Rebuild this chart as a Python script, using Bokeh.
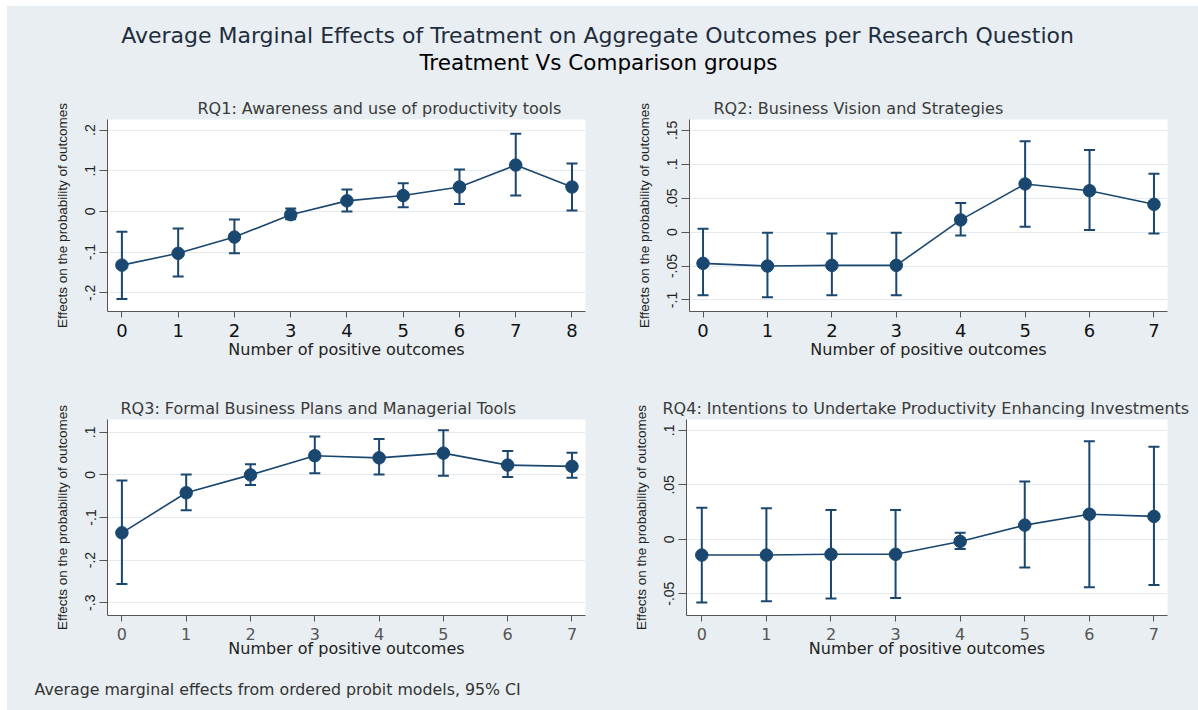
from bokeh.plotting import figure
from bokeh.layouts import column, row
from bokeh.models import (ColumnDataSource, Whisker, TeeHead, FixedTicker, Range1d,
                          Label, Title)
from bokeh.embed import file_html
from bokeh.resources import INLINE

# ---------------- data ----------------
rq1_x = [0, 1, 2, 3, 4, 5, 6, 7, 8]
rq1_y = [-0.132, -0.103, -0.063, -0.008, 0.026, 0.039, 0.060, 0.114, 0.060]
rq1_lo = [-0.215, -0.160, -0.103, -0.019, 0.000, 0.010, 0.018, 0.039, 0.002]
rq1_hi = [-0.050, -0.042, -0.020, 0.007, 0.054, 0.069, 0.103, 0.191, 0.118]

rq2_x = [0, 1, 2, 3, 4, 5, 6, 7]
rq2_y = [-0.046, -0.050, -0.049, -0.049, 0.018, 0.071, 0.061, 0.041]
rq2_lo = [-0.093, -0.096, -0.093, -0.093, -0.005, 0.008, 0.003, -0.002]
rq2_hi = [0.005, -0.001, -0.002, -0.001, 0.043, 0.134, 0.121, 0.086]

rq3_x = [0, 1, 2, 3, 4, 5, 6, 7]
rq3_y = [-0.136, -0.042, 0.000, 0.045, 0.040, 0.051, 0.023, 0.020]
rq3_lo = [-0.256, -0.083, -0.024, 0.004, 0.001, -0.002, -0.005, -0.007]
rq3_hi = [-0.013, 0.001, 0.025, 0.090, 0.084, 0.105, 0.056, 0.052]

rq4_x = [0, 1, 2, 3, 4, 5, 6, 7]
rq4_y = [-0.0145, -0.0145, -0.0138, -0.0138, -0.002, 0.013, 0.023, 0.021]
rq4_lo = [-0.058, -0.057, -0.0545, -0.054, -0.009, -0.026, -0.044, -0.042]
rq4_hi = [0.029, 0.0286, 0.0268, 0.0268, 0.006, 0.053, 0.090, 0.085]

rq1_yticks = [-0.2, -0.1, 0.0, 0.1, 0.2]
rq1_ylabels = ["-.2", "-.1", "0", ".1", ".2"]
rq2_yticks = [-0.1, -0.05, 0.0, 0.05, 0.1, 0.15]
rq2_ylabels = ["-.1", "-.05", "0", ".05", ".1", ".15"]
rq3_yticks = [-0.3, -0.2, -0.1, 0.0, 0.1]
rq3_ylabels = ["-.3", "-.2", "-.1", "0", ".1"]
rq4_yticks = [-0.05, 0.0, 0.05, 0.1]
rq4_ylabels = ["-.05", "0", ".05", ".1"]

titles = ["RQ1: Awareness and use of productivity tools",
          "RQ2: Business Vision and Strategies",
          "RQ3: Formal Business Plans and Managerial Tools",
          "RQ4: Intentions to Undertake Productivity Enhancing Investments"]
main_title = "Average Marginal Effects of Treatment on Aggregate Outcomes per Research Question"
sub_title = "Treatment Vs Comparison groups"
note = "Average marginal effects from ordered probit models, 95% CI"
x_label = "Number of positive outcomes"
y_label = "Effects on the probability of outcomes"

# ---------------- style ----------------
BG = "#e8eef1"
NAVY = "#1a476f"
WIDE = "DejaVu Sans"
NARROW = "Liberation Sans"


def panel(xs, ys, lo, hi, yticks, ylabels, title, xr, yr, w, h,
          bl, br, bt, bb, toff, xfs, xcol, xstand, xlstand):
    p = figure(width=w, height=h, x_range=Range1d(*xr), y_range=Range1d(*yr),
               output_backend="svg", toolbar_location=None,
               min_border_left=bl, min_border_right=br,
               min_border_top=bt, min_border_bottom=bb)
    p.background_fill_color = "white"
    p.border_fill_color = BG
    p.outline_line_color = None
    t = Title(text=title, align="left", offset=toff, standoff=4,
              text_font=WIDE, text_font_size="16px",
              text_font_style="normal", text_color="#3a3a3a")
    p.add_layout(t, "above")

    src = ColumnDataSource(dict(x=xs, y=ys, lo=lo, hi=hi))
    p.line("x", "y", source=src, line_color=NAVY, line_width=1.6)
    wh = Whisker(base="x", lower="lo", upper="hi", source=src,
                 line_color=NAVY, line_width=2,
                 upper_head=TeeHead(size=11, line_color=NAVY, line_width=2),
                 lower_head=TeeHead(size=11, line_color=NAVY, line_width=2))
    p.add_layout(wh)
    p.scatter("x", "y", source=src, size=12.5, fill_color=NAVY, line_color=NAVY)

    p.xgrid.visible = False
    p.ygrid.ticker = FixedTicker(ticks=yticks)
    p.ygrid.grid_line_color = "#e4eaee"
    p.ygrid.grid_line_width = 1.2

    p.xaxis.ticker = FixedTicker(ticks=xs)
    p.yaxis.ticker = FixedTicker(ticks=yticks)
    p.yaxis.major_label_overrides = {float(k): v for k, v in zip(yticks, ylabels)}
    p.yaxis.major_label_orientation = "vertical"
    for ax in (p.xaxis[0], p.yaxis[0]):
        ax.axis_line_color = "#555555"
        ax.major_tick_line_color = "#555555"
        ax.minor_tick_line_color = None
        ax.major_tick_in = 0
        ax.axis_label_text_font_style = "normal"
        ax.axis_label_text_color = "#222222"
    p.xaxis.major_tick_out = 6
    p.yaxis.major_tick_out = 8
    p.xaxis.major_label_text_font = WIDE
    p.xaxis.major_label_text_font_size = xfs
    p.xaxis.major_label_text_color = xcol
    p.xaxis.major_label_standoff = xstand
    p.xaxis.axis_label = x_label
    p.xaxis.axis_label_text_font = WIDE
    p.xaxis.axis_label_text_font_size = "16px"
    p.xaxis.axis_label_standoff = xlstand
    p.yaxis.major_label_text_font = NARROW
    p.yaxis.major_label_text_font_size = "14px"
    p.yaxis.major_label_text_color = "#222222"
    p.yaxis.major_label_standoff = 4
    p.yaxis.axis_label = y_label
    p.yaxis.axis_label_text_font = NARROW
    p.yaxis.axis_label_text_font_size = "13.5px"
    p.yaxis.axis_label_standoff = 13
    return p


p1 = panel(rq1_x, rq1_y, rq1_lo, rq1_hi, rq1_yticks, rq1_ylabels, titles[0],
           (-0.256, 8.24), (-0.246, 0.226), 593, 287, 100, 15, 31, 64, 90,
           "18px", "#111111", 6, 0)
p2 = panel(rq2_x, rq2_y, rq2_lo, rq2_hi, rq2_yticks, rq2_ylabels, titles[1],
           (-0.21, 7.21), (-0.117, 0.166), 598, 287, 89, 31, 31, 64, 24,
           "18px", "#111111", 6, 0)
p3 = panel(rq3_x, rq3_y, rq3_lo, rq3_hi, rq3_yticks, rq3_ylabels, titles[2],
           (-0.224, 7.21), (-0.330, 0.130), 593, 295, 100, 15, 44, 55, 13,
           "16px", "#555555", 6, -4)
p4 = panel(rq4_x, rq4_y, rq4_lo, rq4_hi, rq4_yticks, rq4_ylabels, titles[3],
           (-0.237, 7.21), (-0.070, 0.110), 598, 295, 86, 31, 44, 55, -24,
           "16px", "#555555", 6, -4)


def blank(w, h):
    f = figure(width=w, height=h, x_range=Range1d(0, 1), y_range=Range1d(0, 1),
               output_backend="svg", toolbar_location=None,
               min_border=0)
    f.axis.visible = False
    f.grid.visible = False
    f.outline_line_color = None
    f.background_fill_color = BG
    f.border_fill_color = BG
    return f


header = blank(1191, 82)
header.add_layout(Label(x=0.4954, y=0.646, text=main_title, text_font=WIDE,
                        text_font_size="22px", text_color="#1f2d3d",
                        text_align="center", text_baseline="middle"))
header.add_layout(Label(x=0.4962, y=0.317, text=sub_title, text_font=WIDE,
                        text_font_size="21.5px", text_font_style="normal",
                        text_color="#000000",
                        text_align="center", text_baseline="middle"))

footer = blank(1191, 40)
footer.add_layout(Label(x=0.0227, y=0.525, text=note, text_font=WIDE,
                        text_font_size="15.8px", text_color="#333333",
                        text_align="left", text_baseline="middle"))

r1 = row(p1, p2, spacing=0)
r2 = row(p3, p4, spacing=0)
for r in (r1, r2):
    r.styles = {"background-color": BG}
layout = column(header, r1, r2, footer, spacing=0)
layout.margin = (6, 0, 0, 7)
layout.styles = {"background-color": BG}

open("out.html", "w").write(file_html(layout, INLINE, "chart"))
